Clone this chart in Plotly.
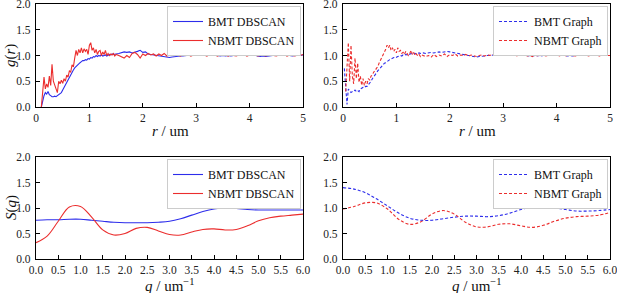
import plotly.graph_objects as go

# ---- r grid (um) ----
r_fine = [round(0.025 * i, 3) for i in range(61)]          # 0 .. 1.5
r_coarse = [round(1.55 + 0.05 * i, 2) for i in range(70)]  # 1.55 .. 5.0
r = r_fine + r_coarse

# g(r) values, fine part (0..1.5 step 0.025) + coarse part (1.55..5.0 step 0.05)
g_bmt_dbscan = [None, None, None, None,
    0.0, 0.15, 0.22, 0.28, 0.25, 0.3, 0.24, 0.22, 0.2, 0.2, 0.21, 0.2, 0.22, 0.23, 0.26, 0.28,
    0.33, 0.38, 0.42, 0.48, 0.55, 0.6, 0.64, 0.68, 0.72, 0.76, 0.79, 0.82, 0.85, 0.86, 0.88, 0.9,
    0.9, 0.92, 0.91, 0.94, 0.93, 0.96, 0.95, 0.98, 0.97, 1.0, 0.98, 1.0, 0.99, 1.01, 0.99, 1.0,
    1.01, 0.99, 1.0, 1.02, 1.01, 1.03, 1.02, 1.03, 1.03,
    1.04, 1.05, 1.07, 1.06, 1.07, 1.05, 1.06, 1.08, 1.1, 1.06, 1.07, 1.03, 1.02, 1.01, 1.0, 1.0,
    0.99, 0.98, 0.97, 0.96, 0.97, 0.98, 0.98, 0.99, 0.99, 1.0, 1.0, 1.01, 1.0, 1.01, 1.02, 1.02,
    1.03, 1.02, 1.01, 1.0, 1.01, 1.0, 0.99, 1.0, 0.99, 1.0, 0.99, 1.0, 1.01, 1.0, 1.01, 1.01,
    1.02, 1.03, 1.02, 1.0, 0.99, 0.98, 0.99, 0.98, 0.99, 1.0, 1.0, 1.01, 1.0, 1.01, 1.0, 1.01,
    1.0, 0.99, 1.0, 1.01, 1.0, 1.01]

g_nbmt_dbscan = [None, None, None, None,
    0.0, 0.3, 0.58, 0.35, 0.45, 0.38, 0.6, 0.42, 0.83, 0.5, 0.42, 0.35, 0.28, 0.5, 0.45, 0.52,
    0.46, 0.55, 0.5, 0.62, 0.58, 0.7, 0.68, 0.82, 0.78, 0.95, 1.1, 1.0, 1.12, 1.05, 1.15, 1.05,
    1.13, 1.08, 1.12, 1.02, 1.2, 1.25, 1.1, 1.15, 1.05, 1.12, 1.02, 1.08, 1.1, 1.0, 1.07, 1.02,
    1.1, 1.0, 1.04, 1.0, 1.03, 1.01, 1.04, 0.99, 1.02,
    1.0, 0.97, 0.95, 1.0, 0.96, 1.04, 1.06, 1.02, 0.95, 1.03, 1.0, 1.04, 1.01, 1.03, 0.99, 1.03,
    1.0, 1.04, 0.99, 1.02, 1.0, 1.01, 1.03, 0.99, 1.01, 1.0, 1.02, 0.99, 1.01, 1.0, 1.02, 1.0,
    1.01, 0.99, 1.02, 1.0, 1.01, 0.99, 1.02, 1.0, 1.01, 0.99, 1.02, 1.0, 0.99, 1.01, 1.0, 1.02,
    0.99, 1.01, 1.0, 1.02, 0.99, 1.0, 1.01, 0.99, 1.0, 1.02, 1.0, 0.99, 1.01, 1.0, 1.02, 0.99,
    1.01, 1.0, 0.99, 1.01, 1.0, 1.02]

g_bmt_graph = [None,
    0.75, 0.4, 0.05, 0.35, 0.3, 0.28, 0.3, 0.3, 0.33, 0.3, 0.32, 0.3, 0.35, 0.36, 0.38, 0.37,
    0.4, 0.4, 0.43, 0.45, 0.5, 0.55, 0.58, 0.62, 0.66, 0.7, 0.73, 0.77, 0.8, 0.82, 0.85, 0.86,
    0.89, 0.9, 0.92, 0.93, 0.94, 0.96, 0.95, 0.97, 0.98, 0.99, 1.0, 0.99, 1.01, 1.0, 1.02, 1.01,
    1.03, 1.02, 1.04, 1.03, 1.04, 1.03, 1.05, 1.04, 1.05, 1.04, 1.05, 1.05,
    1.04, 1.05, 1.06, 1.05, 1.06, 1.07, 1.06, 1.07, 1.08, 1.07, 1.06, 1.05, 1.04, 1.02, 1.01, 1.0,
    0.99, 0.98, 0.98, 0.97, 0.98, 0.98, 0.99, 1.0, 1.0, 1.01, 1.01, 1.02, 1.02, 1.03, 1.03, 1.04,
    1.03, 1.03, 1.02, 1.01, 1.01, 1.0, 1.0, 0.99, 1.0, 0.99, 1.0, 0.99, 1.0, 1.0, 1.01, 1.01,
    1.02, 1.01, 1.01, 1.0, 1.0, 0.99, 1.0, 0.99, 1.0, 1.0, 1.01, 1.0, 1.0, 1.01, 1.0, 1.0,
    1.01, 1.0, 1.0, 1.01, 1.0, 1.0]

g_nbmt_graph = [None, None,
    0.3, 0.7, 1.25, 0.5, 1.2, 0.6, 0.45, 0.95, 0.55, 0.85, 0.48, 0.6, 0.42, 0.55, 0.42, 0.5,
    0.45, 0.55, 0.52, 0.6, 0.62, 0.68, 0.7, 0.75, 0.78, 0.85, 0.9, 0.98, 1.0, 1.08, 1.12, 1.2,
    1.15, 1.2, 1.1, 1.15, 1.08, 1.12, 1.05, 1.15, 1.08, 1.1, 1.04, 1.06, 1.02, 1.08, 1.05, 1.0,
    1.04, 1.1, 1.02, 1.06, 1.0, 1.03, 0.99, 1.02, 0.98, 1.01, 1.0,
    0.98, 1.0, 0.97, 1.02, 0.98, 1.01, 0.99, 1.03, 0.98, 1.02, 1.0, 1.03, 0.99, 1.01, 1.0, 1.02,
    0.99, 1.01, 1.0, 0.98, 1.0, 1.01, 0.99, 1.01, 1.0, 1.02, 1.0, 1.01, 1.03, 1.01, 1.02, 1.0,
    1.02, 1.01, 0.99, 1.01, 1.0, 1.02, 0.99, 1.0, 0.98, 1.01, 0.99, 1.0, 1.01, 0.99, 1.0, 1.02,
    1.0, 1.01, 0.99, 1.01, 1.0, 0.99, 1.01, 1.0, 0.99, 1.01, 1.0, 1.02, 1.0, 0.99, 1.01, 1.0,
    1.01, 0.99, 1.0, 1.01, 1.0, 1.0]

# ---- q grid (um^-1) ----
q = [round(0.25 * i, 2) for i in range(25)]  # 0 .. 6
s_bmt_dbscan = [0.76, 0.77, 0.77, 0.78, 0.78, 0.76, 0.74, 0.72, 0.71, 0.71, 0.71, 0.72, 0.74,
                0.79, 0.86, 0.93, 0.98, 1.0, 0.99, 0.97, 0.96, 0.96, 0.96, 0.96, 0.96]
s_nbmt_dbscan = [0.32, 0.45, 0.74, 1.02, 1.03, 0.82, 0.57, 0.47, 0.5, 0.6, 0.62, 0.55, 0.48,
                 0.47, 0.53, 0.58, 0.59, 0.57, 0.58, 0.65, 0.75, 0.81, 0.84, 0.86, 0.88]
s_bmt_graph = [1.4, 1.37, 1.3, 1.18, 1.04, 0.9, 0.8, 0.76, 0.76, 0.79, 0.82, 0.84, 0.84,
               0.83, 0.85, 0.9, 0.97, 1.01, 1.02, 1.0, 0.97, 0.94, 0.94, 0.95, 0.97]
s_nbmt_graph = [0.98, 1.03, 1.1, 1.1, 0.98, 0.78, 0.68, 0.73, 0.88, 0.95, 0.88, 0.72, 0.63,
                0.63, 0.68, 0.69, 0.65, 0.62, 0.66, 0.74, 0.8, 0.83, 0.84, 0.86, 0.91]

r_ticks = [0, 1, 2, 3, 4, 5]
q_ticks = [round(0.5 * i, 1) for i in range(13)]
y_ticks = [0.0, 0.5, 1.0, 1.5, 2.0]

BLUE = "rgb(45,45,235)"
RED = "rgb(235,45,45)"
FONT = "Liberation Serif"

fig = go.Figure()

def add(x, y, name, color, dash, xa, ya, legend, shape="linear"):
    fig.add_trace(go.Scatter(
        x=x, y=y, name=name, mode="lines", xaxis=xa, yaxis=ya, legend=legend,
        line=dict(color=color, width=1.1, dash=dash, shape=shape,
                  smoothing=1.0 if shape == "spline" else None),
        connectgaps=False))

add(r, g_bmt_dbscan, "BMT DBSCAN", BLUE, "solid", "x", "y", "legend")
add(r, g_nbmt_dbscan, "NBMT DBSCAN", RED, "solid", "x", "y", "legend")
add(r, g_bmt_graph, "BMT Graph", BLUE, "3px,2px", "x2", "y2", "legend2")
add(r, g_nbmt_graph, "NBMT Graph", RED, "3px,2px", "x2", "y2", "legend2")
add(q, s_bmt_dbscan, "BMT DBSCAN", BLUE, "solid", "x3", "y3", "legend3", "spline")
add(q, s_nbmt_dbscan, "NBMT DBSCAN", RED, "solid", "x3", "y3", "legend3", "spline")
add(q, s_bmt_graph, "BMT Graph", BLUE, "3px,2px", "x4", "y4", "legend4", "spline")
add(q, s_nbmt_graph, "NBMT Graph", RED, "3px,2px", "x4", "y4", "legend4", "spline")

W, H = 617, 293
xL = [36 / W, 303 / W]
xR = [343 / W, 610 / W]
yT = [1 - 107 / H, 1 - 4 / H]
yB = [1 - 259 / H, 1 - 157 / H]

tickfont = dict(family=FONT, size=11.5, color="#222")
common = dict(showline=True, linecolor="black", linewidth=1.3, mirror=True,
              ticks="inside", ticklen=4, tickwidth=1.2, tickcolor="black",
              showgrid=False, zeroline=False, tickfont=tickfont, automargin=False,
              ticklabeloverflow="allow")

def xaxis(dom, anchor, rng, ticks, fmt):
    return dict(domain=dom, anchor=anchor, range=rng, tickvals=ticks,
                ticktext=[fmt.format(t) for t in ticks], **common)

def yaxis(dom, anchor):
    return dict(domain=dom, anchor=anchor, range=[0, 2], tickvals=y_ticks,
                ticktext=["{:.1f}".format(t) for t in y_ticks], ticklabelstandoff=2, **common)

legfont = dict(family=FONT, size=12, color="#111")
def leg(x, y):
    return dict(x=x, y=y, xanchor="right", yanchor="top", bgcolor="white",
                bordercolor="#cccccc", borderwidth=1, font=legfont,
                tracegroupgap=0, itemwidth=30)

titlefont = dict(family=FONT, size=15, color="#111")
def ann(text, px, py, angle=0):
    return dict(text=text, x=px / W, y=1 - py / H, xref="paper", yref="paper",
                showarrow=False, font=titlefont, textangle=angle,
                xanchor="center", yanchor="middle")

fig.update_layout(
    width=W, height=H, margin=dict(l=0, r=0, t=0, b=0, autoexpand=False),
    paper_bgcolor="white", plot_bgcolor="white", showlegend=True,
    xaxis=xaxis(xL, "y", [0, 5], r_ticks, "{:d}"),
    yaxis=yaxis(yT, "x"),
    xaxis2=xaxis(xR, "y2", [0, 5], r_ticks, "{:d}"),
    yaxis2=yaxis(yT, "x2"),
    xaxis3=xaxis(xL, "y3", [0, 6], q_ticks, "{:.1f}"),
    yaxis3=yaxis(yB, "x3"),
    xaxis4=xaxis(xR, "y4", [0, 6], q_ticks, "{:.1f}"),
    yaxis4=yaxis(yB, "x4"),
    legend=leg(301 / W, 1 - 6 / H),
    legend2=leg(608 / W, 1 - 6 / H),
    legend3=leg(301 / W, 1 - 159 / H),
    legend4=leg(608 / W, 1 - 159 / H),
    annotations=[
        ann("<i>g</i>(<i>r</i>)", 11, 56, -90),
        ann("<i>r</i> / um", 170, 131),
        ann("<i>r</i> / um", 477, 131),
        ann("<i>S</i>(<i>q</i>)", 11, 208, -90),
        ann("<i>q</i> / um<sup>−1</sup>", 170, 285),
        ann("<i>q</i> / um<sup>−1</sup>", 477, 285),
    ],
)

fig.write_html("out.html", config={"displayModeBar": False},
               post_script="document.body.style.margin='0';")
